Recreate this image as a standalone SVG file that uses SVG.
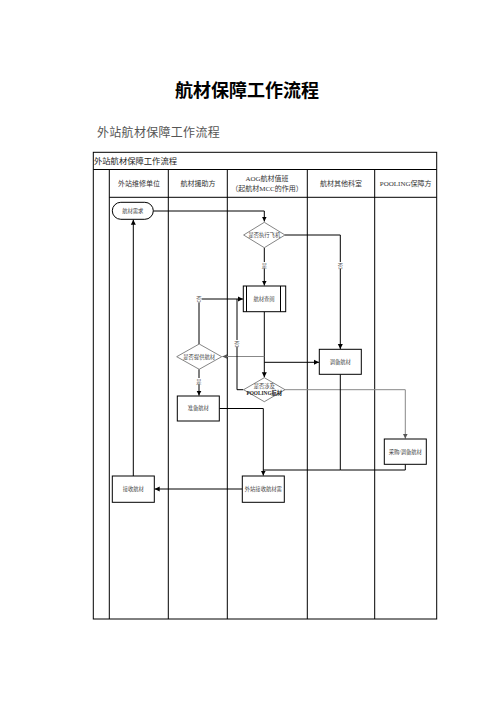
<svg xmlns="http://www.w3.org/2000/svg" width="496" height="702" viewBox="0 0 496 702">
<defs>
<style>
.t{font-family:"Liberation Serif","Noto Sans CJK SC",serif;fill:#000}
.h{font-size:7px;text-anchor:middle;fill:#333}
.n{font-size:5.3px;text-anchor:middle;fill:#444}
.grid{stroke:#000;stroke-width:1;fill:none}
.box{fill:#fff;stroke:#000;stroke-width:1}
.dia{fill:#fff;stroke:#666;stroke-width:0.8}
.c{fill:none;stroke:#000;stroke-width:1}
.g{fill:none;stroke:#888;stroke-width:1}
.lbl{font-size:5.3px;text-anchor:middle;fill:#555}
</style>
<marker id="a" markerWidth="6" markerHeight="6" refX="5" refY="3" orient="auto" markerUnits="userSpaceOnUse"><path d="M0,0.5 L5,3 L0,5.5 z" fill="#000"/></marker>
<marker id="ag" markerWidth="6" markerHeight="6" refX="5" refY="3" orient="auto" markerUnits="userSpaceOnUse"><path d="M0,0.5 L5,3 L0,5.5 z" fill="#555"/></marker>
</defs>
<rect width="496" height="702" fill="#fff"/>
<text class="t" x="247" y="97" font-size="18" font-weight="bold" text-anchor="middle">航材保障工作流程</text>
<text class="t" x="97" y="137" font-size="12" fill="#555" letter-spacing="0.3" style="fill:#555">外站航材保障工作流程</text>
<g id="table">
<rect class="grid" x="93.3" y="152.3" width="343.4" height="466.7"/>
<line class="grid" x1="93.3" y1="169.5" x2="436.7" y2="169.5"/>
<line class="grid" x1="109.3" y1="197.3" x2="436.7" y2="197.3"/>
<line class="grid" x1="109.3" y1="169.5" x2="109.3" y2="619"/>
<line class="grid" x1="168.3" y1="169.5" x2="168.3" y2="619"/>
<line class="grid" x1="227.3" y1="169.5" x2="227.3" y2="619"/>
<line class="grid" x1="307.3" y1="169.5" x2="307.3" y2="619"/>
<line class="grid" x1="374.7" y1="169.5" x2="374.7" y2="619"/>
<text class="t" x="94" y="164" font-size="8.3" style="fill:#222">外站航材保障工作流程</text>
<text class="t h" x="139" y="186">外站维修单位</text>
<text class="t h" x="198" y="186">航材援助方</text>
<text class="t h" x="267" y="181" font-size="6.5">AOG航材值班</text>
<text class="t h" x="267" y="191" font-size="6.5">（起航材MCC的作用）</text>
<text class="t h" x="341" y="186">航材其他科室</text>
<text class="t h" x="405.7" y="186" font-size="6.5">POOLING保障方</text>
</g>
<g id="connectors">
<polyline class="c" points="153.3,211 264.3,211 264.3,221.5" marker-end="url(#a)"/>
<polyline class="c" points="264.3,247.7 264.3,285.5" marker-end="url(#a)"/>
<polyline class="c" points="285,235 340.3,235 340.3,349" marker-end="url(#a)"/>
<polyline class="c" points="264.3,311.7 264.3,377.3" marker-end="url(#a)"/>
<polyline class="c" points="264.3,362.3 319,362.3" marker-end="url(#a)"/>
<polyline class="g" points="264.3,356.5 222.3,356.5" marker-end="url(#ag)"/>
<polyline class="c" points="199,344 199,299 243,299" marker-end="url(#a)"/>
<polyline class="c" points="243.3,389.7 237,389.7 237,299"/>
<polyline class="c" points="199,369.3 199,395.6" marker-end="url(#a)"/>
<polyline class="g" points="285,389.7 405.3,389.7 405.3,438.6" marker-end="url(#ag)"/>
<polyline class="c" points="219.3,408.5 263.3,408.5 263.3,475.6" marker-end="url(#a)"/>
<polyline class="c" points="340.3,374.3 340.3,470 263.3,470"/>
<polyline class="c" points="405.3,464.3 405.3,470 340.3,470"/>
<polyline class="c" points="242.3,489 154.7,489" marker-end="url(#a)"/>
<polyline class="c" points="133.3,476 133.3,219.7" marker-end="url(#a)"/>
<rect x="261.5" y="262" width="5.6" height="6.5" fill="#fff"/>
<text class="t lbl" x="264.3" y="267.5">是</text>
<rect x="337.5" y="262" width="5.6" height="6.5" fill="#fff"/>
<text class="t lbl" x="340.3" y="267.5">否</text>
<rect x="196" y="295.8" width="5.6" height="6.5" fill="#fff"/>
<text class="t lbl" x="198.8" y="301.2">否</text>
<rect x="234.2" y="340" width="5.6" height="6.5" fill="#fff"/>
<text class="t lbl" x="237" y="345.5">否</text>
<rect x="196" y="378" width="5.6" height="6.5" fill="#fff"/>
<text class="t lbl" x="198.8" y="383.5">是</text>
</g>
<g id="n1">
<rect class="box" x="112.3" y="202.3" width="41" height="17" rx="8.5"/>
<text class="t n" x="132.8" y="212.7">航材需求</text>
</g>
<g id="n2">
<polygon class="dia" points="264.3,222.3 285,235 264.3,247.7 243.6,235"/>
<text class="t n" x="264.3" y="236.8">是否执行飞机</text>
</g>
<g id="n3">
<rect class="box" x="243.3" y="286" width="42.4" height="25.7"/>
<line class="c" x1="246.5" y1="286" x2="246.5" y2="311.7"/>
<line class="c" x1="280.5" y1="286" x2="280.5" y2="311.7"/>
<text class="t n" x="264" y="300.8">航材查阅</text>
</g>
<g id="n4">
<polygon class="dia" points="199.2,344 221.7,356.7 199.2,369.3 176.7,356.7"/>
<text class="t n" x="199.2" y="358.5">是否提供航材</text>
</g>
<g id="n5">
<rect class="box" x="319.3" y="349.3" width="42" height="25"/>
<text class="t n" x="340.3" y="363.6">调备航材</text>
</g>
<g id="n6">
<polygon class="dia" points="264.3,377.7 285,389.7 264.3,401.7 243.6,389.7"/>
<text class="t n" x="264.3" y="387.5">是否涉及</text>
<text class="t n" x="264.3" y="394.5" font-weight="bold" style="fill:#222">POOLING航材</text>
</g>
<g id="n7">
<rect class="box" x="177.3" y="396" width="42" height="25"/>
<text class="t n" x="198.3" y="410.3">准备航材</text>
</g>
<g id="n8">
<rect class="box" x="384.3" y="439" width="42" height="25.3"/>
<text class="t n" x="405.3" y="453.5">采购/调备航材</text>
</g>
<g id="n9">
<rect class="box" x="112.3" y="476" width="42" height="26.3"/>
<text class="t n" x="133.3" y="491">接收航材</text>
</g>
<g id="n10">
<rect class="box" x="242.3" y="476" width="42" height="26.3"/>
<text class="t n" x="263.3" y="491">外站接收航材需</text>
</g>
</svg>
